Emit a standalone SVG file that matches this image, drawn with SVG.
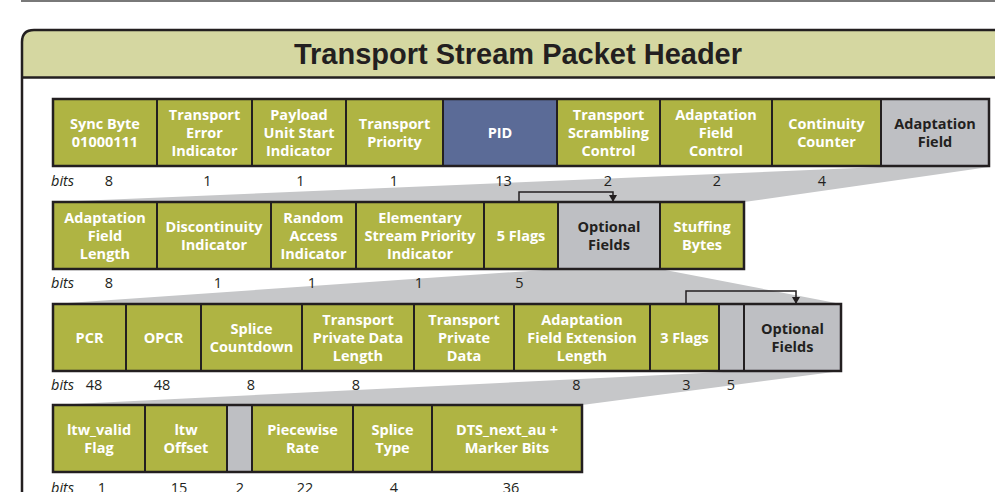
<svg xmlns="http://www.w3.org/2000/svg" width="995" height="492" viewBox="0 0 995 492">
  <style>
    .cell { stroke: #231f20; stroke-width: 2; }
    .g { fill: #afb443; }
    .pid { fill: #5b6b97; }
    .gr { fill: #bebfc3; }
    .row { fill: none; stroke: #231f20; stroke-width: 2.5; }
    .fan { fill: #c6c7c9; }
    text { font-family: "Open Sans", "Noto Sans", "DejaVu Sans", sans-serif; }
    .w { fill: #ffffff; font-weight: 700; font-size: 14.5px; text-anchor: middle; }
    .d { fill: #231f20; font-weight: 700; font-size: 14.5px; text-anchor: middle; }
    .bits { fill: #231f20; font-style: italic; font-size: 14.5px; }
    .n { fill: #231f20; font-size: 14.5px; text-anchor: middle; }
    .title { font-family: "Liberation Sans", Arial, sans-serif; font-weight: 700; font-size: 29px; fill: #231f20; text-anchor: middle; }
    .link { fill: none; stroke: #231f20; stroke-width: 1.5; }
  </style>
  <defs>
    <marker id="arrow" markerUnits="userSpaceOnUse" markerWidth="8" markerHeight="8" refX="7" refY="4" orient="auto">
      <path d="M0,0 L7,4 L0,8 Z" fill="#231f20"/>
    </marker>
  </defs>

  <rect width="995" height="492" fill="#ffffff"/>
  <!-- page rule -->
  <line x1="21" y1="1" x2="995" y2="1" stroke="#4d4d4d" stroke-width="1.5"/>

  <!-- panel frame with title band -->
  <g id="frame">
    <path d="M22,78 V42 Q22,30 34,30 H1000 V78 Z" fill="#d5d7a1"/>
    <path d="M22,500 V42 Q22,30 34,30 H1000" fill="none" stroke="#231f20" stroke-width="2.5"/>
    <line x1="22" y1="77.5" x2="1000" y2="77.5" stroke="#231f20" stroke-width="2.5"/>
    <text class="title" x="518" y="64">Transport Stream Packet Header</text>
  </g>

  <!-- expansion bands -->
  <g id="expansions">
    <polygon class="fan" points="53,202 881,167 989,167 744,202"/>
    <polygon class="fan" points="53,304 558,269 660,269 841,304"/>
    <polygon class="fan" points="53,405 744,371 841,371 582,405"/>
  </g>

  <!-- flag-to-field connectors -->
  <g id="connectors">
    <path class="link" d="M519,202 V192 H613 V202" marker-end="url(#arrow)"/>
    <path class="link" d="M686,304 V291 H796 V304" marker-end="url(#arrow)"/>
  </g>

  <!-- row 1: header -->
  <g id="row1">
    <g id="sync-byte"><rect class="cell g" x="53" y="99" width="104" height="67"/>
      <text class="w" x="105" y="129">Sync Byte</text><text class="w" x="105" y="147">01000111</text></g>
    <g id="transport-error"><rect class="cell g" x="157" y="99" width="95" height="67"/>
      <text class="w" x="204.5" y="120">Transport</text><text class="w" x="204.5" y="138">Error</text><text class="w" x="204.5" y="156">Indicator</text></g>
    <g id="payload-unit-start"><rect class="cell g" x="252" y="99" width="94" height="67"/>
      <text class="w" x="299" y="120">Payload</text><text class="w" x="299" y="138">Unit Start</text><text class="w" x="299" y="156">Indicator</text></g>
    <g id="transport-priority"><rect class="cell g" x="346" y="99" width="97" height="67"/>
      <text class="w" x="394.5" y="129">Transport</text><text class="w" x="394.5" y="147">Priority</text></g>
    <g id="pid"><rect class="cell pid" x="443" y="99" width="114" height="67"/>
      <text class="w" x="500" y="138">PID</text></g>
    <g id="scrambling-control"><rect class="cell g" x="557" y="99" width="103" height="67"/>
      <text class="w" x="608.5" y="120">Transport</text><text class="w" x="608.5" y="138">Scrambling</text><text class="w" x="608.5" y="156">Control</text></g>
    <g id="adaptation-field-control"><rect class="cell g" x="660" y="99" width="112" height="67"/>
      <text class="w" x="716" y="120">Adaptation</text><text class="w" x="716" y="138">Field</text><text class="w" x="716" y="156">Control</text></g>
    <g id="continuity-counter"><rect class="cell g" x="772" y="99" width="109" height="67"/>
      <text class="w" x="826.5" y="129">Continuity</text><text class="w" x="826.5" y="147">Counter</text></g>
    <g id="adaptation-field"><rect class="cell gr" x="881" y="99" width="108" height="67"/>
      <text class="d" x="935" y="129">Adaptation</text><text class="d" x="935" y="147">Field</text></g>
    <rect class="row" x="53" y="99" width="936" height="67"/>
    <text class="bits" x="51" y="186">bits</text>
    <text class="n" x="109" y="186">8</text>
    <text class="n" x="207.5" y="186">1</text>
    <text class="n" x="300.5" y="186">1</text>
    <text class="n" x="394" y="186">1</text>
    <text class="n" x="503.5" y="186">13</text>
    <text class="n" x="608" y="186">2</text>
    <text class="n" x="717" y="186">2</text>
    <text class="n" x="822" y="186">4</text>
  </g>

  <!-- row 2: adaptation field -->
  <g id="row2">
    <g id="adaptation-field-length"><rect class="cell g" x="53" y="202" width="104" height="67"/>
      <text class="w" x="105" y="223">Adaptation</text><text class="w" x="105" y="241">Field</text><text class="w" x="105" y="259">Length</text></g>
    <g id="discontinuity"><rect class="cell g" x="157" y="202" width="114" height="67"/>
      <text class="w" x="214" y="232">Discontinuity</text><text class="w" x="214" y="250">Indicator</text></g>
    <g id="random-access"><rect class="cell g" x="271" y="202" width="85" height="67"/>
      <text class="w" x="313.5" y="223">Random</text><text class="w" x="313.5" y="241">Access</text><text class="w" x="313.5" y="259">Indicator</text></g>
    <g id="es-priority"><rect class="cell g" x="356" y="202" width="128" height="67"/>
      <text class="w" x="420" y="223">Elementary</text><text class="w" x="420" y="241">Stream Priority</text><text class="w" x="420" y="259">Indicator</text></g>
    <g id="five-flags"><rect class="cell g" x="484" y="202" width="74" height="67"/>
      <text class="w" x="521" y="241">5 Flags</text></g>
    <g id="optional-fields-1"><rect class="cell gr" x="558" y="202" width="102" height="67"/>
      <text class="d" x="609" y="232">Optional</text><text class="d" x="609" y="250">Fields</text></g>
    <g id="stuffing-bytes"><rect class="cell g" x="660" y="202" width="84" height="67"/>
      <text class="w" x="702" y="232">Stuffing</text><text class="w" x="702" y="250">Bytes</text></g>
    <rect class="row" x="53" y="202" width="691" height="67"/>
    <text class="bits" x="51" y="288">bits</text>
    <text class="n" x="109" y="288">8</text>
    <text class="n" x="218" y="288">1</text>
    <text class="n" x="312" y="288">1</text>
    <text class="n" x="419" y="288">1</text>
    <text class="n" x="519.5" y="288">5</text>
  </g>

  <!-- row 3: optional fields -->
  <g id="row3">
    <g id="pcr"><rect class="cell g" x="53" y="304" width="73" height="67"/>
      <text class="w" x="89.5" y="343">PCR</text></g>
    <g id="opcr"><rect class="cell g" x="126" y="304" width="75" height="67"/>
      <text class="w" x="163.5" y="343">OPCR</text></g>
    <g id="splice-countdown"><rect class="cell g" x="201" y="304" width="101" height="67"/>
      <text class="w" x="251.5" y="334">Splice</text><text class="w" x="251.5" y="352">Countdown</text></g>
    <g id="private-data-length"><rect class="cell g" x="302" y="304" width="112" height="67"/>
      <text class="w" x="358" y="325">Transport</text><text class="w" x="358" y="343">Private Data</text><text class="w" x="358" y="361">Length</text></g>
    <g id="private-data"><rect class="cell g" x="414" y="304" width="100" height="67"/>
      <text class="w" x="464" y="325">Transport</text><text class="w" x="464" y="343">Private</text><text class="w" x="464" y="361">Data</text></g>
    <g id="extension-length"><rect class="cell g" x="514" y="304" width="136" height="67"/>
      <text class="w" x="582" y="325">Adaptation</text><text class="w" x="582" y="343">Field Extension</text><text class="w" x="582" y="361">Length</text></g>
    <g id="three-flags"><rect class="cell g" x="650" y="304" width="69" height="67"/>
      <text class="w" x="684.5" y="343">3 Flags</text></g>
    <g id="reserved-1"><rect class="cell gr" x="719" y="304" width="25" height="67"/></g>
    <g id="optional-fields-2"><rect class="cell gr" x="744" y="304" width="97" height="67"/>
      <text class="d" x="792.5" y="334">Optional</text><text class="d" x="792.5" y="352">Fields</text></g>
    <rect class="row" x="53" y="304" width="788" height="67"/>
    <text class="bits" x="51" y="390">bits</text>
    <text class="n" x="94" y="390">48</text>
    <text class="n" x="162" y="390">48</text>
    <text class="n" x="251" y="390">8</text>
    <text class="n" x="356" y="390">8</text>
    <text class="n" x="576.5" y="390">8</text>
    <text class="n" x="686.5" y="390">3</text>
    <text class="n" x="731" y="390">5</text>
  </g>

  <!-- row 4: extension fields -->
  <g id="row4">
    <g id="ltw-valid"><rect class="cell g" x="53" y="405" width="92" height="67"/>
      <text class="w" x="99" y="435">ltw_valid</text><text class="w" x="99" y="453">Flag</text></g>
    <g id="ltw-offset"><rect class="cell g" x="145" y="405" width="82" height="67"/>
      <text class="w" x="186" y="435">ltw</text><text class="w" x="186" y="453">Offset</text></g>
    <g id="reserved-2"><rect class="cell gr" x="227" y="405" width="25" height="67"/></g>
    <g id="piecewise-rate"><rect class="cell g" x="252" y="405" width="101" height="67"/>
      <text class="w" x="302.5" y="435">Piecewise</text><text class="w" x="302.5" y="453">Rate</text></g>
    <g id="splice-type"><rect class="cell g" x="353" y="405" width="79" height="67"/>
      <text class="w" x="392.5" y="435">Splice</text><text class="w" x="392.5" y="453">Type</text></g>
    <g id="dts-next-au"><rect class="cell g" x="432" y="405" width="150" height="67"/>
      <text class="w" x="507" y="435">DTS_next_au +</text><text class="w" x="507" y="453">Marker Bits</text></g>
    <rect class="row" x="53" y="405" width="529" height="67"/>
    <text class="bits" x="51" y="493">bits</text>
    <text class="n" x="102" y="493">1</text>
    <text class="n" x="179" y="493">15</text>
    <text class="n" x="240" y="493">2</text>
    <text class="n" x="305" y="493">22</text>
    <text class="n" x="394" y="493">4</text>
    <text class="n" x="511" y="493">36</text>
  </g>
</svg>
